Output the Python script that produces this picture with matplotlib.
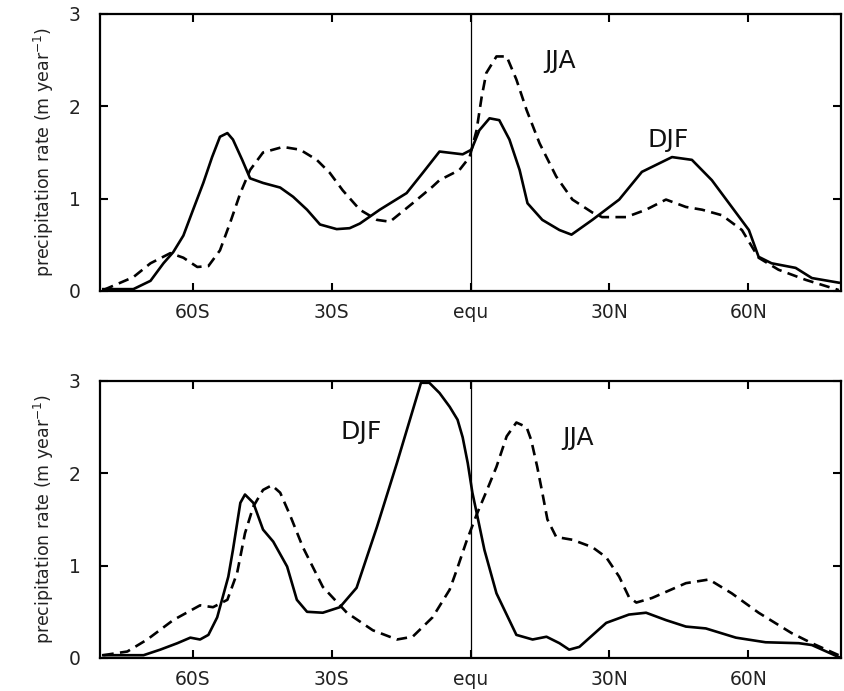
import numpy as np
import matplotlib
matplotlib.use("Agg")
import matplotlib.pyplot as plt

# zonal-mean precipitation (m/yr) against latitude, upper panel
top_djf_lat = [-79.3, -72.8, -69.1, -66.3, -64.2, -62.0, -59.9, -57.7, -55.8, -54.1,
               -52.5, -51.3, -49.3, -47.6, -44.8, -41.1, -38.3, -35.3, -32.5, -28.9,
               -26.1, -23.9, -19.6, -13.8, -10.3, -6.7, -1.7, 0.2, 1.9, 4.1,
               6.2, 8.4, 10.6, 12.3, 15.5, 19.2, 21.8, 26.3, 32.1, 37.0,
               43.5, 47.8, 52.1, 56.4, 60.1, 62.2, 65.0, 70.2, 73.7, 79.5]
top_djf = [0.02, 0.02, 0.11, 0.30, 0.42, 0.60, 0.88, 1.17, 1.45, 1.67,
           1.71, 1.64, 1.42, 1.22, 1.17, 1.12, 1.02, 0.88, 0.72, 0.67,
           0.68, 0.73, 0.88, 1.06, 1.28, 1.51, 1.48, 1.53, 1.74, 1.87,
           1.85, 1.64, 1.31, 0.95, 0.77, 0.66, 0.61, 0.77, 0.99, 1.29,
           1.45, 1.42, 1.20, 0.91, 0.66, 0.37, 0.30, 0.25, 0.14, 0.09]

top_jja_lat = [-79.3, -72.8, -69.1, -64.8, -62.0, -59.0, -56.6, -54.1, -51.9, -49.7,
               -47.6, -44.8, -40.5, -36.8, -33.2, -30.4, -27.6, -23.9, -20.2, -17.4,
               -12.5, -8.2, -6.7, -2.4, -0.2, 1.3, 2.4, 3.4, 5.6, 7.8,
               9.9, 12.1, 14.9, 18.5, 22.0, 26.3, 28.4, 33.6, 37.9, 42.2,
               46.5, 50.0, 54.3, 58.6, 62.2, 66.5, 72.4, 79.5]
top_jja = [0.01, 0.15, 0.30, 0.41, 0.36, 0.26, 0.27, 0.44, 0.74, 1.06,
           1.31, 1.50, 1.56, 1.53, 1.42, 1.28, 1.09, 0.88, 0.77, 0.75,
           0.95, 1.13, 1.20, 1.31, 1.45, 1.74, 2.10, 2.36, 2.54, 2.54,
           2.29, 1.96, 1.60, 1.24, 0.99, 0.85, 0.80, 0.80, 0.88, 0.99,
           0.91, 0.88, 0.82, 0.66, 0.36, 0.23, 0.12, 0.01]

# lower panel
bot_djf_lat = [-79.3, -70.6, -67.0, -63.3, -60.5, -58.4, -56.6, -54.7, -52.3, -51.3,
               -49.7, -48.7, -46.9, -44.8, -42.6, -39.6, -37.5, -35.3, -31.9, -28.2,
               -24.6, -20.2, -15.9, -10.7, -8.9, -6.7, -4.5, -2.8, -1.7, -0.6,
               0.4, 1.5, 3.0, 5.6, 9.9, 13.4, 16.4, 19.2, 21.3, 23.5,
               29.3, 34.2, 37.9, 42.2, 46.5, 50.8, 57.3, 63.7, 70.9, 73.7, 79.5]
bot_djf = [0.03, 0.03, 0.09, 0.16, 0.22, 0.20, 0.25, 0.44, 0.88, 1.17,
           1.68, 1.77, 1.68, 1.39, 1.26, 0.99, 0.63, 0.50, 0.49, 0.55,
           0.76, 1.42, 2.11, 2.98, 2.98, 2.87, 2.72, 2.58, 2.39, 2.11,
           1.79, 1.53, 1.17, 0.70, 0.25, 0.20, 0.23, 0.16, 0.09, 0.12,
           0.38, 0.47, 0.49, 0.41, 0.34, 0.32, 0.22, 0.17, 0.16, 0.14, 0.01]

bot_jja_lat = [-79.3, -74.1, -69.8, -64.2, -58.4, -55.6, -52.5, -50.4, -48.7, -46.9,
               -44.8, -42.9, -41.1, -39.0, -36.2, -31.9, -26.7, -21.1, -15.9, -12.5,
               -8.2, -4.5, -3.0, -0.9, 1.3, 3.4, 5.6, 7.8, 9.9, 12.1,
               13.1, 14.4, 15.5, 16.6, 18.5, 22.0, 26.3, 29.3, 32.1, 34.2,
               35.8, 39.2, 46.5, 51.5, 56.4, 62.2, 69.3, 73.7, 79.5]
bot_jja = [0.03, 0.07, 0.20, 0.41, 0.57, 0.55, 0.63, 0.92, 1.35, 1.64,
           1.82, 1.87, 1.79, 1.55, 1.20, 0.77, 0.49, 0.30, 0.20, 0.23,
           0.44, 0.74, 0.95, 1.26, 1.55, 1.80, 2.07, 2.40, 2.55, 2.50,
           2.36, 2.07, 1.79, 1.50, 1.31, 1.28, 1.20, 1.09, 0.88, 0.66,
           0.60, 0.65, 0.81, 0.85, 0.70, 0.49, 0.27, 0.16, 0.03]

lat_ticks = [-60, -30, 0, 30, 60]
lat_labels = ["60S", "30S", "equ", "30N", "60N"]
panels = [
    (top_djf_lat, top_djf, top_jja_lat, top_jja,
     [("JJA", 19.4, 2.49), ("DJF", 42.6, 1.64)]),
    (bot_djf_lat, bot_djf, bot_jja_lat, bot_jja,
     [("DJF", -23.7, 2.45), ("JJA", 23.3, 2.38)]),
]

fig = plt.figure(figsize=(8.44, 6.91), dpi=100)
rects = [[0.1185, 0.5789, 0.878, 0.4009], [0.1185, 0.0478, 0.878, 0.4009]]

for rect, (dlat, djf, jlat, jja, labels) in zip(rects, panels):
    ax = fig.add_axes(rect)
    ax.plot(dlat, djf, color="black", lw=1.9, solid_joinstyle="round")
    ax.plot(jlat, jja, color="black", lw=1.9, linestyle=(0, (4, 2.4)))
    ax.axvline(0, color="black", lw=0.9)
    ax.set_xlim(-80, 80)
    ax.set_ylim(0, 3)
    ax.set_xticks(lat_ticks)
    ax.set_xticklabels(lat_labels, fontsize=13.5, color="#222222")
    ax.set_yticks([0, 1, 2, 3])
    ax.set_yticklabels(["0", "1", "2", "3"], fontsize=13.5, color="#222222")
    ax.tick_params(direction="in", length=6, width=1.5, top=True, right=True)
    ax.tick_params(axis="x", pad=9)
    ax.tick_params(axis="y", pad=14)
    for s in ax.spines.values():
        s.set_linewidth(1.6)
    ax.set_ylabel(r"precipitation rate (m year$^{-1}$)", fontsize=12.5,
                  labelpad=9, color="#222222")
    for txt, x, y in labels:
        ax.text(x, y, txt, fontsize=18, ha="center", va="center", color="#111111")

fig.savefig("out.png", dpi=100)
